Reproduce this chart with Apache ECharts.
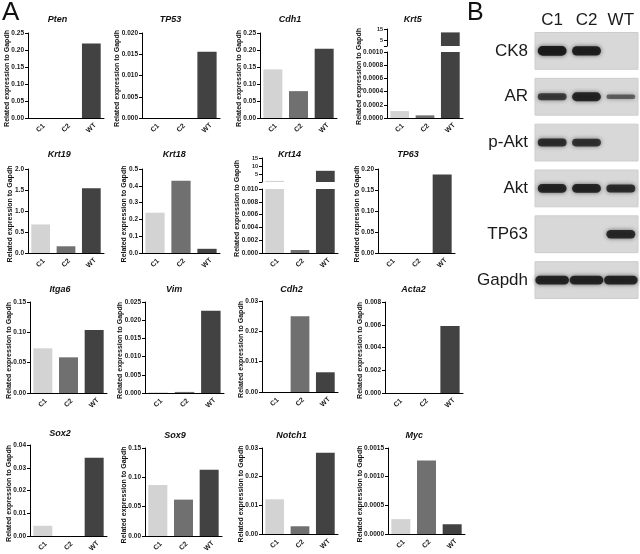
<!DOCTYPE html>
<html><head><meta charset="utf-8">
<script src="https://cdn.jsdelivr.net/npm/echarts@6/dist/echarts.min.js"></script>
<style>html,body{margin:0;padding:0;background:#fff}#c{width:640px;height:554px}</style>
</head><body><div id="c"></div>
<script>
// ---------- data ----------
const categories = ['C1', 'C2', 'WT'];

const pten   = [0, 0, 0.219];
const tp53   = [0, 0, 0.0156];
const cdh1   = [0.143, 0.079, 0.204];
const krt5   = [0.000105, 0.00004, 12];
const krt19  = [0.68, 0.16, 1.54];
const krt18  = [0.24, 0.43, 0.025];
const krt14  = [0.7, 0.00047, 7];
const tp63   = [0, 0, 0.187];
const itga6  = [0.0737, 0.0588, 0.104];
const vim    = [0.0002, 0.0003, 0.0226];
const cdh2   = [0, 0.025, 0.0065];
const acta2  = [0, 0, 0.0059];
const sox2   = [0.0045, 0, 0.0344];
const sox9   = [0.087, 0.062, 0.113];
const notch1 = [0.0121, 0.0027, 0.0283];
const myc    = [0.00026, 0.00128, 0.00017];

// axis ranges: [min, max, interval, decimals]
const ptenAxis   = [0, 0.25, 0.05, 2];
const tp53Axis   = [0, 0.020, 0.005, 3];
const cdh1Axis   = [0, 0.25, 0.05, 2];
const krt5Axis   = [0, 0.0010, 0.0002, 4];
const krt5Upper  = [0, 15, 5, 0];
const krt19Axis  = [0, 2.0, 0.5, 1];
const krt18Axis  = [0, 0.5, 0.1, 1];
const krt14Axis  = [0, 0.010, 0.002, 3];
const krt14Upper = [0, 15, 5, 0];
const tp63Axis   = [0, 0.20, 0.05, 2];
const itga6Axis  = [0, 0.15, 0.05, 2];
const vimAxis    = [0, 0.025, 0.005, 3];
const cdh2Axis   = [0, 0.03, 0.01, 2];
const acta2Axis  = [0, 0.008, 0.002, 3];
const sox2Axis   = [0, 0.04, 0.01, 2];
const sox9Axis   = [0, 0.15, 0.05, 2];
const notch1Axis = [0, 0.03, 0.01, 2];
const mycAxis    = [0, 0.0015, 0.0005, 4];

// western blot band intensities (lanes C1, C2, WT)
const blotLanes = ['C1', 'C2', 'WT'];
const blotProteins = ['CK8', 'AR', 'p-Akt', 'Akt', 'TP63', 'Gapdh'];
const ck8Band   = [0.95, 0.92, 0];
const arBand    = [0.6, 0.85, 0.3];
const pAktBand  = [0.75, 0.7, 0];
const aktBand   = [0.85, 0.85, 0.75];
const tp63Band  = [0, 0, 0.8];
const gapdhBand = [0.85, 0.85, 0.85];

// ---------- styles / layout ----------
const FONT = '"Liberation Sans", Arial, Helvetica, sans-serif';
const barColors = ['#d3d3d3', '#707070', '#424242'];
const yName = 'Related expression to Gapdh';

const charts = [
  {title:'Pten',   data:pten,   axis:ptenAxis,   left:28,  right:104, top:33,  bottom:118, titleY:20},
  {title:'TP53',   data:tp53,   axis:tp53Axis,   left:142, right:220, top:33,  bottom:118, titleY:20},
  {title:'Cdh1',   data:cdh1,   axis:cdh1Axis,   left:260, right:337, top:33,  bottom:118, titleY:20},
  {title:'Krt5',   data:krt5,   axis:krt5Axis,   left:387, right:463, top:52,  bottom:118, titleY:20,
     upper:krt5Upper, upperTop:29, upperBottom:46},
  {title:'Krt19',  data:krt19,  axis:krt19Axis,  left:28,  right:104, top:169, bottom:253, titleY:155},
  {title:'Krt18',  data:krt18,  axis:krt18Axis,  left:142, right:220, top:169, bottom:253, titleY:155},
  {title:'Krt14',  data:krt14,  axis:krt14Axis,  left:262, right:338, top:189, bottom:253, titleY:155,
     upper:krt14Upper, upperTop:158, upperBottom:182},
  {title:'TP63',   data:tp63,   axis:tp63Axis,   left:378, right:455, top:169, bottom:253, titleY:155},
  {title:'Itga6',  data:itga6,  axis:itga6Axis,  left:30,  right:107, top:302, bottom:393, titleY:290},
  {title:'Vim',    data:vim,    axis:vimAxis,    left:145, right:224, top:302, bottom:393, titleY:290},
  {title:'Cdh2',   data:cdh2,   axis:cdh2Axis,   left:262, right:338, top:301, bottom:392, titleY:290},
  {title:'Acta2',  data:acta2,  axis:acta2Axis,  left:385, right:463, top:302, bottom:393, titleY:290},
  {title:'Sox2',   data:sox2,   axis:sox2Axis,   left:30,  right:107, top:445, bottom:536, titleY:434},
  {title:'Sox9',   data:sox9,   axis:sox9Axis,   left:145, right:222, top:448, bottom:536, titleY:436},
  {title:'Notch1', data:notch1, axis:notch1Axis, left:262, right:338, top:448, bottom:534, titleY:436},
  {title:'Myc',    data:myc,    axis:mycAxis,    left:388, right:465, top:448, bottom:534, titleY:436}
];

const grids = [], xAxes = [], yAxes = [], series = [], graphics = [];

function textWidth(s, fs) {
  let w = 0;
  for (const ch of s) w += (ch === '.' ? 0.278 : 0.556) * fs;
  return w;
}

function addPanel(c, axis, top, bottom, isUpper) {
  const gi = grids.length;
  grids.push({left:c.left, top:top, width:c.right - c.left, height:bottom - top,
              containLabel:false, outerBoundsMode:'none'});
  xAxes.push({
    gridIndex:gi, type:'category', data:categories, show: !isUpper,
    axisLine:{show:true, lineStyle:{color:'#000', width:1}},
    axisTick:{show:false},
    axisLabel:{show:true, interval:0, rotate:45, align:'center', verticalAlign:'middle', margin:10,
               fontSize:7, fontWeight:'bold', fontFamily:FONT, color:'#1a1a1a'}
  });
  const dec = axis[3];
  yAxes.push({
    gridIndex:gi, type:'value', min:axis[0], max:axis[1], interval:axis[2],
    axisLine:{show:true, lineStyle:{color:'#000', width:1}},
    axisTick:{show:true, length:3, lineStyle:{color:'#000', width:1}},
    splitLine:{show:false},
    axisLabel:{show:true, margin:4, fontSize: isUpper ? 5.5 : 6.5, fontWeight:'bold', fontFamily:FONT, color:'#1a1a1a',
               showMinLabel:true, showMaxLabel:true,
               formatter: isUpper ? (v => v === 0 ? '' : String(Math.round(v))) : (v => v.toFixed(dec))}
  });
  series.push({
    type:'bar', xAxisIndex:gi, yAxisIndex:gi, barCategoryGap:'26%', clip:true, silent:true,
    data:c.data.map((v, k) => ({value:v, itemStyle:{color:barColors[k]}}))
  });
}

charts.forEach(c => {
  addPanel(c, c.axis, c.top, c.bottom, false);
  let spanTop = c.top;
  if (c.upper) {
    addPanel(c, c.upper, c.upperTop, c.upperBottom, true);
    spanTop = c.upperTop;
  }
  const lw = textWidth(c.axis[1].toFixed(c.axis[3]), 6.5);
  const nameX = c.left - lw - 5 - 3.5;
  graphics.push({type:'text', x:nameX, y:(spanTop + c.bottom) / 2 + 3, rotation:Math.PI / 2,
    style:{text:yName, font:'bold 7px ' + FONT, fill:'#111', align:'center', verticalAlign:'middle'}});
  graphics.push({type:'text', x:(nameX + c.right) / 2 + 2, y:c.titleY,
    style:{text:c.title, font:'italic bold 9px ' + FONT, fill:'#111', align:'center', verticalAlign:'middle'}});
});

graphics.push({type:'text', x:2, y:0, style:{text:'A', font:'26px ' + FONT, fill:'#111', align:'left', verticalAlign:'top'}});
graphics.push({type:'text', x:467, y:1, style:{text:'B', font:'25px ' + FONT, fill:'#111', align:'left', verticalAlign:'top'}});

// ---------- western blot ----------
const bgi = grids.length;
grids.push({left:535, top:28, width:103, height:275, containLabel:false, outerBoundsMode:'none'});
xAxes.push({gridIndex:bgi, type:'category', data:blotLanes, position:'top',
  axisLine:{show:false}, axisTick:{show:false}, splitLine:{show:false},
  axisLabel:{show:true, interval:0, margin:-1, fontSize:17, fontFamily:FONT, color:'#1a1a1a'}});
yAxes.push({gridIndex:bgi, type:'category', data:blotProteins, inverse:true,
  axisLine:{show:false}, axisTick:{show:false}, splitLine:{show:false},
  axisLabel:{show:true, interval:0, margin:7, fontSize:17, fontFamily:FONT, color:'#1a1a1a'}});

series.push({
  type:'custom', xAxisIndex:bgi, yAxisIndex:bgi, silent:true, z:1,
  data: blotProteins.map((p, i) => [0, i]),
  renderItem: function (params, api) {
    const cs = params.coordSys;
    const pt = api.coord([0, api.value(1)]);
    const rowH = api.size([0, 1])[1];
    const h = rowH - 9;
    return {type:'rect', shape:{x:cs.x, y:pt[1] - h / 2, width:cs.width, height:h},
            style:{fill:'#d8d8d8', stroke:'#cdcdcd', lineWidth:1}};
  }
});

const blotRows = [ck8Band, arBand, pAktBand, aktBand, tp63Band, gapdhBand];
const bandData = [];
blotRows.forEach((row, r) => row.forEach((v, l) => bandData.push([l, r, v])));

series.push({
  type:'custom', xAxisIndex:bgi, yAxisIndex:bgi, silent:true, z:2,
  data: bandData,
  renderItem: function (params, api) {
    const I = api.value(2);
    if (!(I > 0)) return null;
    const row = api.value(1);
    const pt = api.coord([api.value(0), row]);
    const cw = api.size([1, 0])[0];
    const w = cw * (blotProteins[row] === 'Gapdh' ? 0.98 : 0.84);
    const h = 2 + 8 * I;
    const col = 'rgba(20,20,20,' + (0.35 + 0.6 * I).toFixed(2) + ')';
    return {type:'rect', shape:{x:pt[0] - w / 2, y:pt[1] - h / 2, width:w, height:h, r:h / 2},
            style:{fill:col, shadowBlur:4, shadowColor:'rgba(20,20,20,0.7)'}};
  }
});

const chart = echarts.init(document.getElementById('c'), null, {renderer:'canvas'});
chart.setOption({
  animation:false,
  backgroundColor:'#fff',
  grid:grids, xAxis:xAxes, yAxis:yAxes, series:series,
  graphic:graphics
});
</script></body></html>
